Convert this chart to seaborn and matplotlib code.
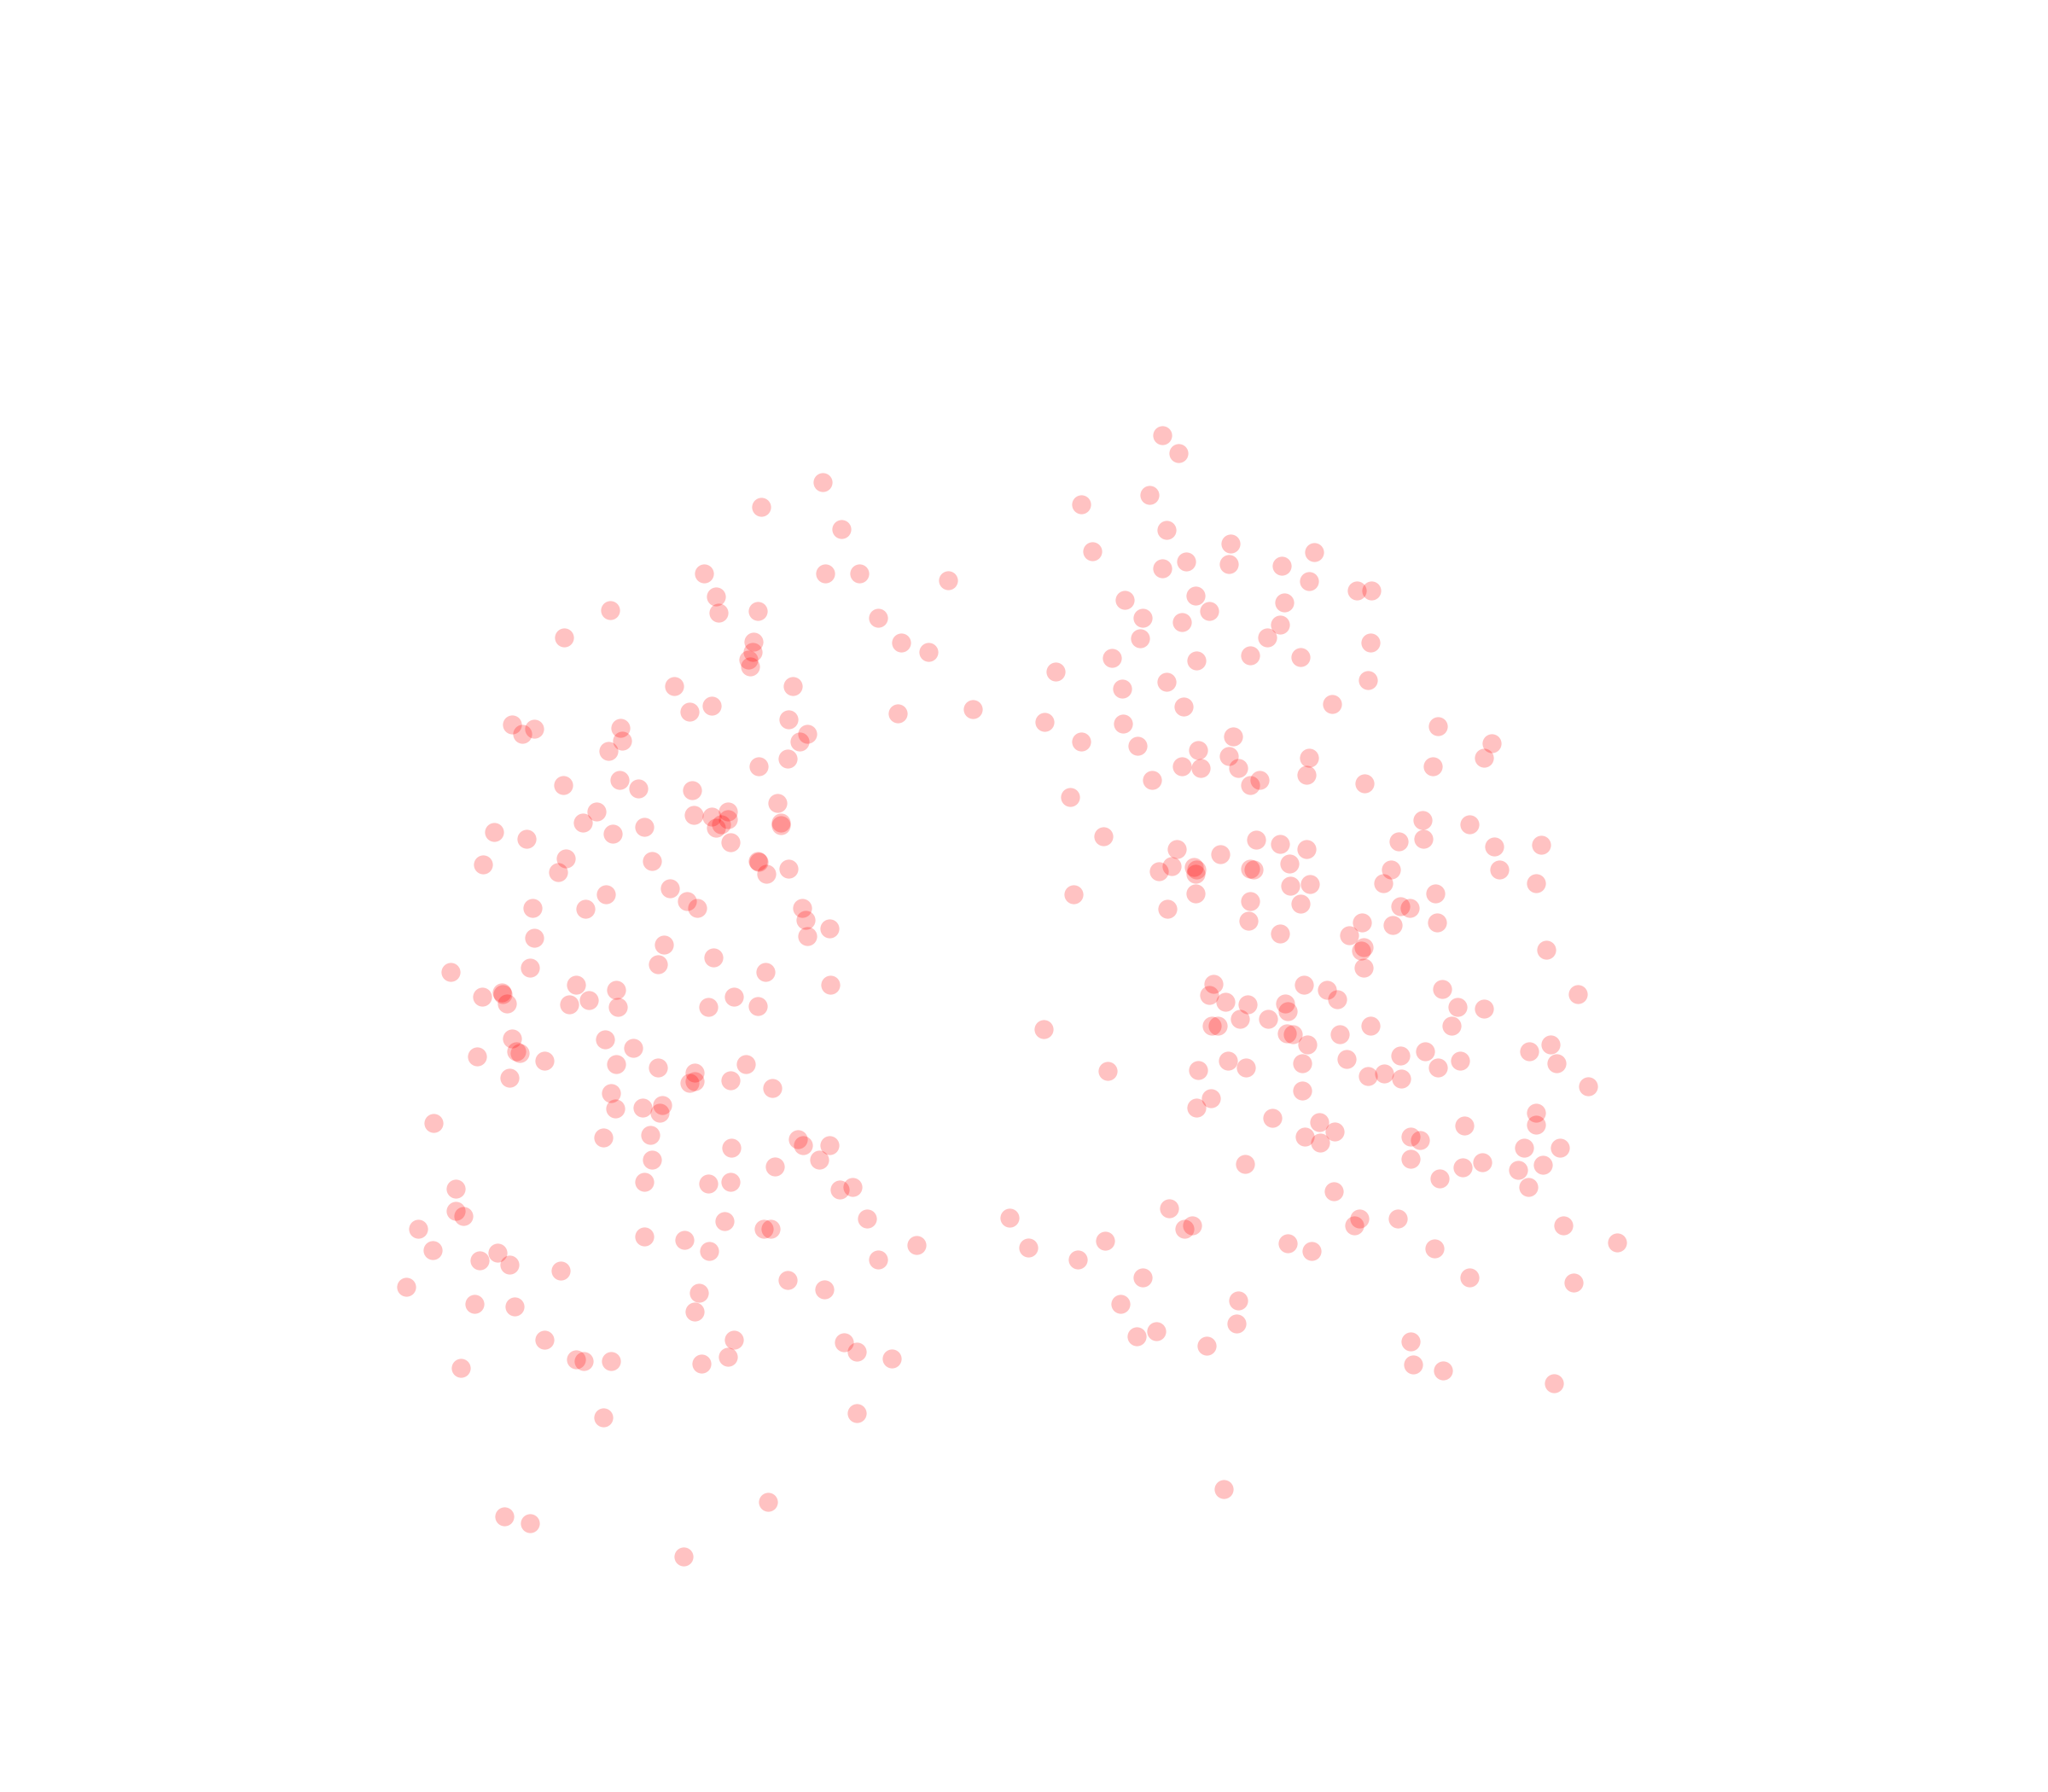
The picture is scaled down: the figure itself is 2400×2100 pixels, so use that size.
import matplotlib
matplotlib.use("Agg")
import matplotlib.pyplot as plt
import seaborn as sns
import pandas as pd

# values
left_x = [583,630,644,632,658,726,672,690,711,745,687,
539,548,550,580,467,432,577,576,573,574,516,607,545,528,604,618,612,603,581,392,400,409,475,476,466,474,489,431,530,595,557,545,531,557,552,548,598,598,559,457,446,493,469,378,403,433,370,427,499,580,581,604,587,513,464,526,534,408,448,614,617,635,618,409,508,546,504,406,345,586,441,636,472,384,385,369,388,436,451,473,562,580,542,392,463,485,395,398,365,417,472,504,571,390,532,532,528,559,591,468,471,492,507,505,332,498,462,611,615,635,560,627,499,593,493,542,559,643,653,349,349,355,664,555,585,590,320,493,524,702,331,543,381,367,390,672,429,603,311,631,535,363,394,532,417,562,646,656,683,557,441,447,468,537,353,462,656,588,386,406,523]
left_y = [388,369,405,439,439,444,473,492,499,543,546,
439,457,469,468,467,488,491,499,505,510,525,525,540,545,551,562,568,581,587,555,562,558,557,567,575,597,604,601,605,615,621,625,624,627,631,634,630,632,645,621,630,633,638,637,642,657,662,668,659,659,660,665,669,680,685,690,695,695,696,695,704,711,717,718,723,733,738,741,744,744,754,754,758,760,761,763,768,769,766,771,763,770,771,795,796,802,805,806,809,812,815,817,815,825,821,828,829,827,833,837,849,848,846,852,860,869,871,872,877,877,879,888,888,893,905,906,905,911,909,910,927,931,933,935,941,941,941,947,949,953,957,958,959,965,968,964,973,980,985,987,990,998,1000,1004,1026,1026,1028,1035,1040,1039,1041,1042,1042,1044,1047,1085,1082,1150,1161,1166,1192]

right_x = [890,902,880,828,893,942,836,1006,908,941,890,981,1002,1039,1050,861,915,983,926,875,905,980,970,873,1049,957,996,851,916,808,893,1047,859,906,1020,800,860,1101,944,828,871,1142,917,941,1002,1136,905,919,1097,948,882,964,957,1000,1045,819,1089,1125,845,962,980,1071,1090,1144,1180,1000,901,934,914,897,887,916,915,957,960,987,1065,1148,1059,988,1003,1176,822,915,1099,957,996,1072,1079,894,956,1043,1066,1100,980,1033,1044,1042,1184,1044,929,998,1016,1104,926,1024,1208,938,955,984,986,1116,1136,949,971,928,932,1049,1111,799,985,990,1026,1001,1187,1171,1091,1072,1031,940,997,1118,1192,954,1101,917,848,1047,1060,1073,1216,997,927,916,1176,974,1010,1176,1121,1022,999,1011,1080,1087,1167,1194,1080,953,1135,1120,1181,1162,1102,1170,1021,895,1041,1070,1037,913,907,1197,773,846,787,986,1238,1004,1098,825,875,1125,1205,948,858,947,885,870,924,1080,1082,1105,1190,937]
right_y = [333,347,379,386,406,416,422,423,430,432,435,433,445,452,452,459,456,461,468,473,476,478,488,489,492,502,503,504,506,514,522,521,527,541,539,553,554,556,564,568,571,569,574,579,580,580,587,588,587,588,597,597,601,593,600,610,628,631,640,643,646,644,642,648,647,650,650,654,664,663,667,666,669,665,666,661,666,666,676,678,677,676,685,684,684,690,692,694,695,696,705,706,708,706,715,716,725,728,727,741,753,754,758,757,762,765,761,767,769,768,774,771,772,780,780,785,785,785,785,788,791,792,792,800,800,805,805,808,811,812,814,812,814,817,817,819,820,824,822,826,832,835,841,848,852,856,859,861,862,866,870,875,870,873,879,879,887,891,890,894,892,896,902,909,912,925,933,933,938,938,941,938,932,950,955,952,951,958,956,964,978,978,982,996,998,1013,1019,1023,1030,1027,1045,1049,1059,1140]

df = pd.DataFrame({"x": left_x + right_x, "y": left_y + right_y})

sns.set_theme(style="white")
fig = plt.figure(figsize=(12, 10.5), dpi=200)
ax = fig.add_axes([0, 0, 1, 1])
sns.scatterplot(data=df, x="x", y="y", color="#ff0000", alpha=0.24, s=64, linewidth=0, ax=ax)
ax.set_xlim(0, 1568)
ax.set_ylim(1372, 0)
ax.axis("off")
fig.savefig("out.png", dpi=200)
